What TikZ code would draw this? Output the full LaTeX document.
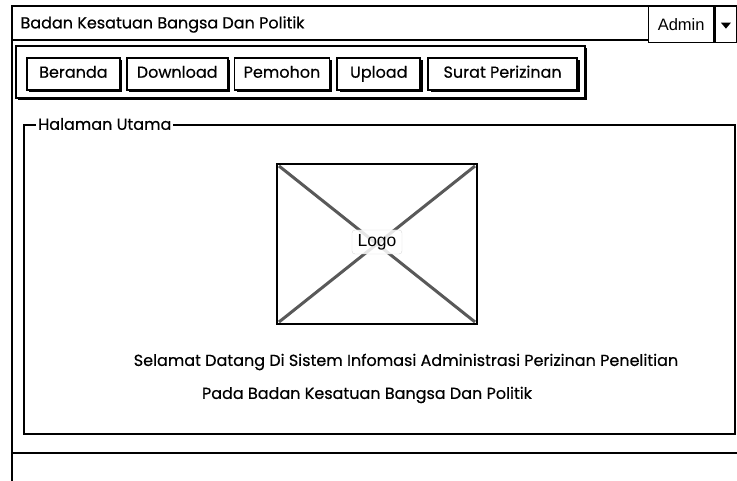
\documentclass[tikz,border=0pt]{standalone}
\usepackage{fontspec}
\setmainfont{Poppins}
\newfontfamily\wirefont{Poppins}[FakeBold=0.4]
\newfontfamily\uifont{Liberation Sans}
\usetikzlibrary{positioning,shadows}

\tikzset{
  sketch/.style={draw=black, line width=1.8pt},
  navbtn/.style={sketch, fill=white, minimum height=32pt, inner sep=0pt,
    font=\wirefont\fontsize{16}{18}\selectfont, text height=1.7ex, text depth=.3ex,
    general shadow={fill=black, shadow xshift=2.5pt, shadow yshift=-2.5pt}},
  uibox/.style={draw=black, line width=1.3pt, fill=white, inner sep=0pt,
    font=\uifont\fontsize{16.5}{18}\selectfont},
  bodytext/.style={font=\wirefont\fontsize{16}{18}\selectfont, text=black}
}

\begin{document}
\begin{tikzpicture}[x=1pt,y=-1pt]
  \useasboundingbox (0,0) rectangle (737,481);

  % outer window
  \draw[sketch] (12,481) -- (12,6) -- (740,6);
  \draw[sketch] (12,40) -- (648,40);
  \node[anchor=west, bodytext] (judul) at (17,24.5) {Badan Kesatuan Bangsa Dan Politik};

  % user menu
  \node[uibox, minimum width=65pt, minimum height=36pt, anchor=north west] (admin) at (648,6) {Admin};
  \node[uibox, minimum width=22pt, minimum height=36pt, anchor=north west] (pilih) at (admin.north east) {};
  \fill ([xshift=-5pt,yshift=2pt]pilih.center) -- ([xshift=5pt,yshift=2pt]pilih.center)
        -- ([yshift=-4pt]pilih.center) -- cycle;

  % menu bar
  \draw[sketch, fill=white, general shadow={fill=black, shadow xshift=2pt, shadow yshift=-2pt}]
    (16,46) rectangle (585,98);
  \node[navbtn, minimum width=93pt, anchor=north west] (beranda) at (26,57) {Beranda};
  \node[navbtn, minimum width=101pt, right=5pt of beranda] (download) {Download};
  \node[navbtn, minimum width=95pt, right=5pt of download] (pemohon) {Pemohon};
  \node[navbtn, minimum width=83pt, right=6pt of pemohon] (upload) {Upload};
  \node[navbtn, minimum width=149pt, right=6pt of upload] (surat) {Surat Perizinan};

  % halaman utama
  \draw[sketch] (24,125) rectangle (735,434);
  \node[anchor=west, fill=white, inner xsep=2pt, bodytext] (halaman) at (36,124) {Halaman Utama};

  % logo placeholder
  \draw[line width=3pt, black!65] (279,166) -- (475,322);
  \draw[line width=3pt, black!65] (475,166) -- (279,322);
  \draw[sketch, line width=2.4pt] (277,164) rectangle (477,324);
  \node[draw=black!15, rounded corners=3pt, fill=white, fill opacity=.85, text opacity=1,
        font=\uifont\fontsize{17.5}{19}\selectfont, minimum width=50pt, minimum height=24pt,
        inner sep=0pt] (logo) at (377,242) {Logo};

  % teks sambutan
  \node[bodytext] (sambutan) at (406,362) {Selamat Datang Di Sistem Infomasi Administrasi Perizinan Penelitian};
  \node[bodytext] (instansi) at (367,395) {Pada Badan Kesatuan Bangsa Dan Politik};

  % footer
  \draw[sketch] (12,453) -- (740,453);
\end{tikzpicture}
\end{document}
